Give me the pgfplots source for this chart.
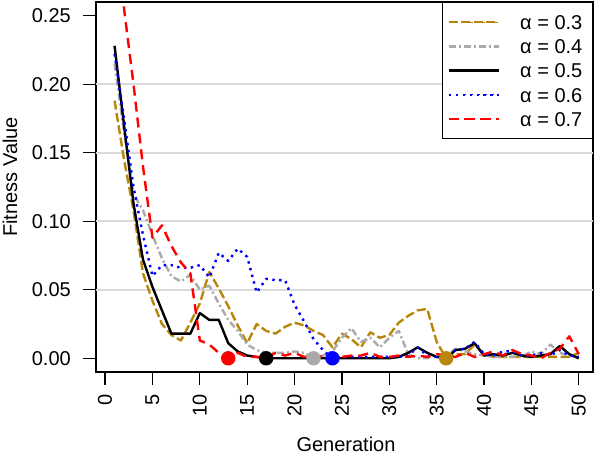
\documentclass[border=0pt]{standalone}
\usepackage{pgfplots}
\usepackage{pgfplotstable}
\pgfplotsset{compat=1.18}
\usepackage{fontspec}
\setmainfont{Liberation Sans}
\definecolor{cgold}{RGB}{184,134,11}
\definecolor{cgray}{RGB}{170,170,170}
\definecolor{cgrid}{RGB}{218,218,218}

\pgfplotstableread{
x  a3     a4     a5     a6     a7
1  0.188  0.215  0.228  0.222  0.350
2  0.145  0.165  0.170  0.175  0.255
3  0.108  0.120  0.113  0.125  0.200
4  0.062  0.108  0.072  0.090  0.140
5  0.042  0.090  0.052  0.060  0.088
6  0.025  0.073  0.035  0.068  0.097
7  0.017  0.060  0.018  0.068  0.082
8  0.013  0.056  0.018  0.066  0.070
9  0.026  0.061  0.018  0.066  0.062
10 0.040  0.050  0.033  0.068  0.013
11 0.063  0.053  0.028  0.059  0.010
12 0.051  0.040  0.028  0.077  0.004
13 0.038  0.028  0.011  0.071  0.000
14 0.024  0.020  0.005  0.080  0.004
15 0.011  0.010  0.002  0.074  0.001
16 0.025  0.006  0.001  0.048  0.001
17 0.020  0.004  0.000  0.058  0.000
18 0.018  0.004  0.000  0.057  0.004
19 0.023  0.004  0.000  0.057  0.002
20 0.026  0.005  0.000  0.039  0.004
21 0.024  0.004  0.000  0.027  0.001
22 0.020  0.000  0.000  0.014  0.002
23 0.017  0.002  0.000  0.006  0.001
24 0.008  0.005  0.000  0.000  0.004
25 0.018  0.015  0.000  0.001  0.001
26 0.014  0.022  0.000  0.001  0.002
27 0.008  0.012  0.000  0.001  0.002
28 0.019  0.015  0.000  0.001  0.004
29 0.015  0.008  0.000  0.001  0.001
30 0.017  0.015  0.000  0.001  0.001
31 0.026  0.020  0.001  0.001  0.002
32 0.031  0.003  0.004  0.002  0.001
33 0.035  0.000  0.008  0.008  0.002
34 0.036  0.000  0.004  0.002  0.001
35 0.012  0.003  0.001  0.001  0.003
36 0.000  0.002  0.000  0.002  0.002
37 0.003  0.007  0.006  0.006  0.001
38 0.003  0.005  0.007  0.007  0.004
39 0.010  0.003  0.011  0.012  0.001
40 0.003  0.002  0.002  0.003  0.003
41 0.001  0.001  0.003  0.002  0.005
42 0.001  0.001  0.002  0.005  0.002
43 0.001  0.001  0.004  0.005  0.006
44 0.001  0.001  0.002  0.002  0.003
45 0.001  0.005  0.001  0.002  0.002
46 0.001  0.003  0.002  0.004  0.000
47 0.001  0.010  0.003  0.002  0.004
48 0.001  0.004  0.009  0.006  0.007
49 0.001  0.002  0.003  0.002  0.016
50 0.004  0.001  0.000  0.001  0.003
}\datatable

\begin{document}
\fontsize{20}{24}\selectfont
\begin{tikzpicture}
\path[use as bounding box] (0,0) rectangle (600pt,455pt);
\begin{axis}[
  at={(96pt,83pt)}, anchor=south west,
  width=497pt, height=370pt, scale only axis,
  xmin=-0.96, xmax=51.5, ymin=-0.01, ymax=0.26,
  axis line style={line width=1.3pt},
  every tick/.style={line width=1.3pt, black},
  tick align=outside, major tick length=13pt,
  xtick pos=left, ytick pos=left,
  xtick={0,5,10,15,20,25,30,35,40,45,50},
  xticklabels={0,5,10,15,20,25,30,35,40,45,50},
  ytick={0,0.05,0.10,0.15,0.20,0.25},
  yticklabels={0.00,0.05,0.10,0.15,0.20,0.25},
  extra y ticks={0.05,0.10,0.15,0.20},
  extra y tick labels={},
  extra y tick style={grid=major, major tick length=0pt, major grid style={cgrid, line width=2pt}},
  yticklabel style={anchor=east, inner sep=0pt},
  xticklabel style={rotate=90, anchor=east, inner sep=0pt},
  yticklabel shift=12pt,
  xticklabel shift=9pt,
  xlabel={Generation},
  ylabel={Fitness Value},
  xlabel style={at={(axis description cs:0.503,-0.2162)}, anchor=base, inner sep=0pt},
  ylabel style={at={(axis description cs:-0.173,0.527)}, anchor=center, inner sep=0pt},
  legend image code/.code={\path (0pt,0pt) -- (50pt,0pt); \draw[#1, line width=1.2pt] (15pt,0pt) -- (50pt,0pt);},
  legend style={at={(1,1)}, anchor=north east, draw=black, line width=1.3pt, fill=white,
    inner xsep=5pt, inner ysep=12.5pt, row sep=9.9pt, column sep=15pt,
    font=\fontsize{20}{24}\selectfont, cells={anchor=west},
    nodes={inner xsep=5pt, inner ysep=0pt, text height=14.3pt, text depth=0pt}},
  every axis plot/.append style={line width=2.4pt, line join=round},
]
\addplot[cgold, dash pattern=on 9pt off 3.5pt] table[x=x, y=a3] {\datatable};
\addlegendentry{α = 0.3}
\addplot[cgray, dash pattern=on 7pt off 3pt on 2pt off 3pt] table[x=x, y=a4] {\datatable};
\addlegendentry{α = 0.4}
\addplot[black] table[x=x, y=a5] {\datatable};
\addlegendentry{α = 0.5}
\addplot[blue, dash pattern=on 2.4pt off 4.5pt] table[x=x, y=a6] {\datatable};
\addlegendentry{α = 0.6}
\addplot[red, dash pattern=on 10pt off 6pt] table[x=x, y=a7] {\datatable};
\addlegendentry{α = 0.7}
\addplot[only marks, mark=*, mark size=6pt, red, forget plot] coordinates {(13,0)};
\addplot[only marks, mark=*, mark size=6pt, black, forget plot] coordinates {(17,0)};
\addplot[only marks, mark=*, mark size=6pt, cgray, forget plot] coordinates {(22,0)};
\addplot[only marks, mark=*, mark size=6pt, blue, forget plot] coordinates {(24,0)};
\addplot[only marks, mark=*, mark size=6pt, cgold, forget plot] coordinates {(36,0)};
\end{axis}
\end{tikzpicture}
\end{document}
